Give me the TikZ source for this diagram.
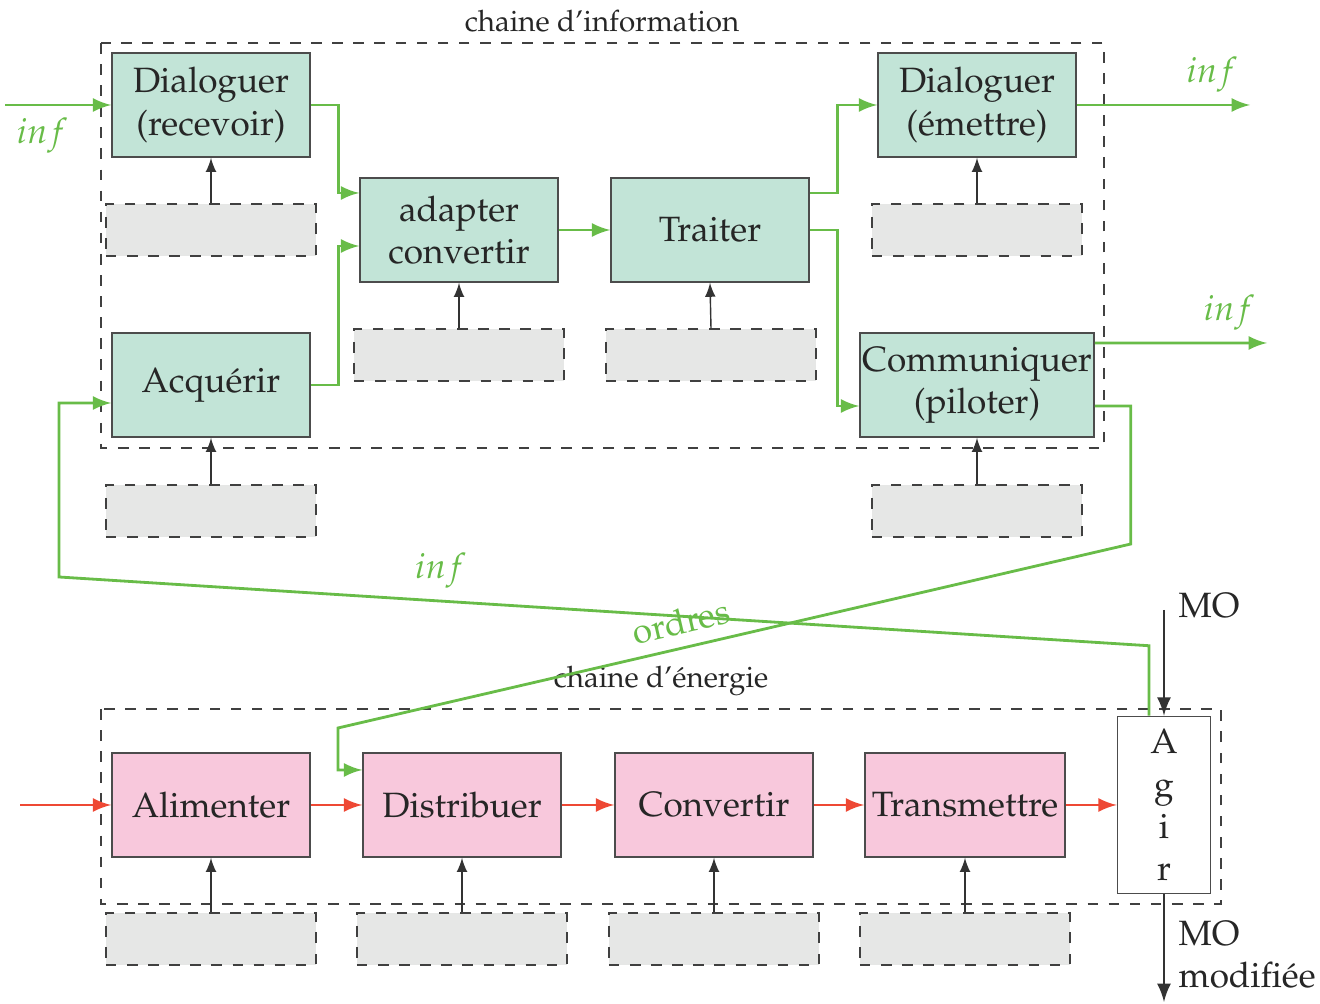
\documentclass[tikz,border=0pt]{standalone}
\usepackage[T1]{fontenc}
\usepackage{mathpazo}
\usepackage{xcolor}
\usepackage{tikz}
\usetikzlibrary{arrows,positioning,calc}
\definecolor{vertinfo}{RGB}{104,188,72}
\definecolor{rougenrj}{RGB}{238,72,52}
\definecolor{fondinfo}{RGB}{194,228,215}
\definecolor{fondnrj}{RGB}{248,200,220}
\definecolor{fondgris}{RGB}{230,231,230}
\tikzset{
  fonc/.style={rectangle, draw=black!70, text=black!85, align=center, minimum width=1.98cm, minimum height=1.04cm, inner sep=2pt},
  infobox/.style={fonc, fill=fondinfo},
  nrjbox/.style={fonc, fill=fondnrj},
  grisbox/.style={rectangle, draw=black!75, dashed, fill=fondgris, minimum width=2.1cm, minimum height=0.52cm},
  chaine/.style={draw=black!75, dashed},
  titre/.style={text=black!85, font=\fontsize{8.4}{10}\selectfont},
  flinfo/.style={draw=vertinfo, thick, ->, >=latex},
  flnrj/.style={draw=rougenrj, thick, ->, >=latex},
  flnoir/.style={draw=black!80, ->, >=latex},
  labinfo/.style={text=vertinfo}
}
\begin{document}
\begin{tikzpicture}[x=0.01cm, y=-0.01cm]
    \useasboundingbox (0,0) rectangle (1320,1004);
    % chaine d'information
    \draw[chaine] (101,43) rectangle (1104,448);
    \node[titre] (tinfo) at (602,21) {chaine d'information};
    \node[infobox] (dialR) at (211,105) {Dialoguer\\(recevoir)};
    \node[infobox] (adapt) at (459,230) {adapter\\convertir};
    \node[infobox] (traiter) at (710,230) {Traiter};
    \node[infobox] (dialE) at (977,105) {Dialoguer\\(\'emettre)};
    \node[infobox] (acq) at (211,385) {Acqu\'erir};
    \node[infobox, minimum width=2.34cm, inner xsep=0pt] (comm) at (977,385) {Communiquer\\(piloter)};
    \node[grisbox] (gdialR) at (211,230) {};
    \node[grisbox] (gadapt) at (459,355) {};
    \node[grisbox] (gtraiter) at (711,355) {};
    \node[grisbox] (gdialE) at (977,230) {};
    \node[grisbox] (gacq) at (211,511) {};
    \node[grisbox] (gcomm) at (977,511) {};
    \foreach \b in {dialR,adapt,traiter,dialE,acq,comm}
      \draw[flnoir] (g\b.north) -- (\b.south);
    % chaine d'energie
    \draw[chaine] (101,709) rectangle (1221,904);
    \node[titre] (tnrj) at (661,681) {chaine d'\'energie};
    \node[nrjbox] (alim) at (211,805) {Alimenter};
    \node[nrjbox] (distrib) at (462,805) {Distribuer};
    \node[nrjbox] (conv) at (714,805) {Convertir};
    \node[nrjbox] (trans) at (965,805) {Transmettre};
    \node[fonc, fill=white, minimum width=0.93cm, minimum height=1.77cm] (agir) at (1164,805) {A\\g\\i\\r};
    \node[grisbox] (galim) at (211,939) {};
    \node[grisbox] (gdistrib) at (462,939) {};
    \node[grisbox] (gconv) at (714,939) {};
    \node[grisbox] (gtrans) at (965,939) {};
    \foreach \b in {alim,distrib,conv,trans}
      \draw[flnoir] (g\b.north) -- (\b.south);
    % flux d'information
    \coordinate (infin) at (5,105);
    \coordinate (infout1) at (1250,105);
    \coordinate (infout2) at (1267,343);
    \draw[flinfo] (infin) -- node[labinfo, below, pos=0.35] {$inf$} (dialR.west);
    \draw[flinfo] (dialR.east) -- ++(28,0) |- ([yshift=0.37cm]adapt.west);
    \draw[flinfo] (acq.east) -- ++(28,0) |- ([yshift=-0.16cm]adapt.west);
    \draw[flinfo] (adapt.east) -- (traiter.west);
    \draw[flinfo] ([yshift=0.37cm]traiter.east) -- ++(28,0) |- (dialE.west);
    \draw[flinfo] (traiter.east) -- ++(28,0) |- ([yshift=-0.21cm]comm.west);
    \draw[flinfo] (dialE.east) -- node[labinfo, above, pos=0.78] {$inf$} (infout1);
    \draw[flinfo] ([yshift=0.42cm]comm.east) -- node[labinfo, above, pos=0.78] {$inf$} (infout2);
    \draw[flinfo] ([yshift=-0.21cm]comm.east) -- ++(36,0) -- ++(0,138)
      -- node[labinfo, above, sloped, pos=0.56] {ordres} (338,728) |- ([yshift=0.35cm]distrib.west);
    \draw[flinfo] ([xshift=-0.15cm]agir.north) -- ++(0,-70)
      -- node[labinfo, above, pos=0.65] {$inf$} (59,577) |- ([yshift=-0.18cm]acq.west);
    % flux d'energie
    \coordinate (nrjin) at (20,805);
    \draw[flnrj] (nrjin) -- (alim.west);
    \draw[flnrj] (alim) -- (distrib);
    \draw[flnrj] (distrib) -- (conv);
    \draw[flnrj] (conv) -- (trans);
    \draw[flnrj] (trans) -- (agir);
    % matiere d'oeuvre
    \coordinate (moin) at (1164,610);
    \coordinate (moout) at (1164,1002);
    \draw[flnoir, thick] (moin) -- (agir.north);
    \node[text=black!85, anchor=north west, inner sep=0pt] (lmo) at (1178,592) {MO};
    \draw[flnoir, thick] (agir.south) -- (moout);
    \node[text=black!85, anchor=north west, align=left, inner sep=0pt] (lmomod) at (1178,920) {MO\\modifi\'ee};
\end{tikzpicture}
\end{document}
